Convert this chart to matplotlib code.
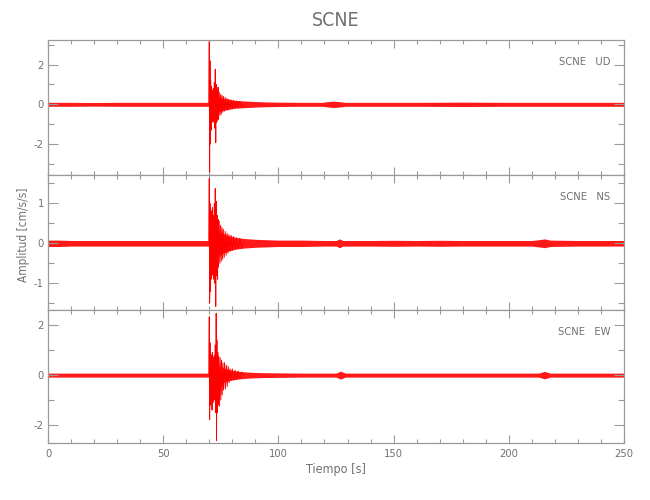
import matplotlib
matplotlib.use("Agg")
import matplotlib.pyplot as plt
from matplotlib.ticker import MultipleLocator

plt.rcParams['font.family'] = ['DejaVu Sans']
plt.rcParams['font.stretch'] = 'condensed'
plt.rcParams['axes.unicode_minus'] = False

title = "SCNE"
station = "SCNE"
components = ["UD", "NS", "EW"]
xlabel = "Tiempo [s]"
ylabel = "Amplitud [cm/s/s]"
x_range = (0, 250)
y_ranges = [(-3.56, 3.24), (-1.67, 1.71), (-2.72, 2.61)]
y_major = [2, 1, 2]
y_minor = [1, 0.5, 1]

# ---- noise / coda envelope (time [s], half-width) ----
ud_env_t = [0, 10, 20, 30, 40, 50, 60, 69.8, 70, 72, 75, 78, 81, 85, 90, 95,
            100, 110, 119, 121, 124, 127, 129, 140, 160, 180, 200, 220, 240, 250]
ud_env_a = [0.1, 0.1, 0.09, 0.1, 0.1, 0.1, 0.1, 0.1, 0.5, 0.5, 0.32, 0.26,
            0.2, 0.17, 0.14, 0.12, 0.11, 0.1, 0.1, 0.13, 0.16, 0.13, 0.1, 0.1,
            0.1, 0.11, 0.1, 0.1, 0.1, 0.1]

ns_env_t = [0, 5, 10, 20, 30, 40, 50, 60, 69.8, 70, 72, 75, 78, 81, 85, 90,
            95, 100, 110, 120, 125, 126.5, 128, 140, 150, 160, 170, 180, 190,
            200, 210, 213, 215.5, 218, 230, 240, 250]
ns_env_a = [0.08, 0.08, 0.07, 0.07, 0.07, 0.07, 0.07, 0.07, 0.07, 0.32, 0.32,
            0.27, 0.2, 0.15, 0.12, 0.1, 0.09, 0.08, 0.08, 0.07, 0.07, 0.11,
            0.07, 0.07, 0.075, 0.07, 0.075, 0.07, 0.07, 0.07, 0.07, 0.09, 0.11,
            0.08, 0.07, 0.07, 0.07]

ew_env_t = [0, 10, 20, 30, 40, 50, 60, 69.8, 70, 72, 75, 78, 80, 83, 87, 92,
            100, 110, 120, 125, 127, 129, 140, 160, 180, 200, 213, 215.5, 218,
            230, 250]
ew_env_a = [0.08, 0.08, 0.08, 0.08, 0.08, 0.08, 0.08, 0.08, 0.42, 0.42, 0.32,
            0.24, 0.19, 0.15, 0.12, 0.1, 0.09, 0.08, 0.08, 0.08, 0.16, 0.08,
            0.08, 0.08, 0.08, 0.08, 0.08, 0.15, 0.08, 0.08, 0.08]

# ---- strong-motion peaks (time [s], amplitude) ----
ud_pk_t = [69.8, 70.0, 70.15, 70.3, 70.45, 70.6, 70.8, 71.0, 71.2, 71.4, 71.6,
           71.8, 72.0, 72.2, 72.4, 72.6, 72.8, 73.0, 73.2, 73.4, 73.6, 73.8,
           74.0, 74.3, 74.6, 74.9, 75.2, 75.5, 75.8, 76.1, 76.5, 76.9, 77.3,
           77.7, 78.1, 78.5, 79.0, 79.5, 80.0, 80.6, 81.2, 81.8, 82.5, 83.2,
           84.0, 85.0]
ud_pk_v = [0.05, 3.15, -3.4, 2.2, -2.0, 1.2, -1.3, 0.9, -0.8, 0.7, -0.9, 0.8,
           -0.7, 1.1, -1.2, 1.76, -1.93, 1.0, -0.9, 0.7, -0.8, 0.86, -0.76,
           0.6, -0.55, 0.5, -0.5, 0.45, -0.4, 0.4, -0.35, 0.35, -0.3, 0.3,
           -0.28, 0.25, -0.22, 0.22, -0.2, 0.2, -0.18, 0.17, -0.15, 0.15,
           -0.12, 0.0]

ns_pk_t = [69.8, 70.0, 70.15, 70.3, 70.45, 70.6, 70.8, 71.0, 71.2, 71.4, 71.6,
           71.8, 72.0, 72.2, 72.4, 72.6, 72.8, 73.0, 73.2, 73.4, 73.6, 73.8,
           74.0, 74.3, 74.6, 74.9, 75.2, 75.5, 75.8, 76.1, 76.5, 76.9, 77.3,
           77.7, 78.1, 78.5, 79.0, 79.5, 80.0, 80.6, 81.2, 81.8, 82.5, 83.2,
           84.0, 85.0]
ns_pk_v = [0.05, 1.62, -1.5, 1.0, -1.2, 0.85, -0.9, 0.8, -0.7, 0.9, -0.8, 0.7,
           -0.9, 1.0, -1.0, 1.37, -1.58, 1.05, -0.8, 0.7, -0.9, 0.6, -0.6,
           0.55, -0.5, 0.45, -0.45, 0.4, -0.4, 0.35, -0.35, 0.3, -0.3, 0.25,
           -0.25, 0.22, -0.2, 0.2, -0.18, 0.17, -0.15, 0.14, -0.13, 0.12,
           -0.1, 0.0]

ew_pk_t = [69.8, 70.0, 70.15, 70.3, 70.45, 70.6, 70.8, 71.0, 71.2, 71.4, 71.6,
           71.8, 72.0, 72.2, 72.4, 72.6, 72.8, 73.0, 73.15, 73.3, 73.5, 73.7,
           73.9, 74.1, 74.4, 74.7, 75.0, 75.3, 75.6, 75.9, 76.2, 76.6, 77.0,
           77.4, 77.8, 78.2, 78.6, 79.0, 79.5, 80.0, 80.6, 81.2, 81.8, 82.5,
           83.2, 84.0, 85.0]
ew_pk_v = [0.05, 2.34, -1.79, 1.3, -1.2, 0.9, -1.0, 0.8, -1.4, 0.9, -1.1, 0.7,
           -0.9, 0.8, -1.0, 1.2, -1.5, 2.48, -2.63, 1.4, -1.5, 0.9, -1.2, 0.75,
           -1.25, 0.7, -1.0, 0.6, -0.8, 0.5, -0.6, 0.5, -0.55, 0.4, -0.45,
           0.35, -0.3, 0.25, -0.22, 0.25, -0.2, 0.2, -0.18, 0.16, -0.15, 0.12,
           0.0]

envs = [(ud_env_t, ud_env_a), (ns_env_t, ns_env_a), (ew_env_t, ew_env_a)]
peaks = [(ud_pk_t, ud_pk_v), (ns_pk_t, ns_pk_v), (ew_pk_t, ew_pk_v)]

AX_C = '#9a9a9a'
TX_C = '#707070'
RED = '#ff0000'

fig = plt.figure(figsize=(6.5, 5.0), dpi=100)
left, width = 48 / 650, 576 / 650
tops = [40, 175, 310]
bots = [175, 310, 443]

axes = []
for i in range(3):
    b = 1 - bots[i] / 500
    h = (bots[i] - tops[i]) / 500
    ax = fig.add_axes([left, b, width, h])
    axes.append(ax)
    et, ea = envs[i]
    ax.fill_between(et, [-a for a in ea], ea, color=RED, linewidth=0,
                    alpha=0.9)
    pt, pv = peaks[i]
    ax.plot(pt, pv, color=RED, linewidth=0.7)
    ax.set_xlim(*x_range)
    ax.set_ylim(*y_ranges[i])
    ax.xaxis.set_major_locator(MultipleLocator(50))
    ax.xaxis.set_minor_locator(MultipleLocator(10))
    ax.yaxis.set_major_locator(MultipleLocator(y_major[i]))
    ax.yaxis.set_minor_locator(MultipleLocator(y_minor[i]))
    for s in ax.spines.values():
        s.set_color(AX_C)
        s.set_linewidth(0.9)
    ax.tick_params(axis='both', which='both', direction='in', top=True,
                   right=True, color=AX_C, labelcolor=TX_C, labelsize=8,
                   width=0.8)
    ax.tick_params(axis='x', which='major', length=5.5, pad=4)
    ax.tick_params(axis='x', which='minor', length=3)
    ax.tick_params(axis='y', which='major', length=7.5, pad=3)
    ax.tick_params(axis='y', which='minor', length=4.5)
    if i < 2:
        ax.tick_params(axis='x', labelbottom=False)
    ax.text(0.976, 0.837, f"{station}   {components[i]}", transform=ax.transAxes,
            ha='right', va='center', fontsize=8, color=TX_C)

axes[2].set_xlabel(xlabel, fontsize=9, color=TX_C, labelpad=3)
fig.text(24 / 650, 1 - 235 / 500, ylabel, rotation=90, ha='center',
         va='center', fontsize=8.5, color=TX_C)
fig.text(left + width / 2, 1 - 20 / 500, title, ha='center', va='center',
         fontsize=14, color=TX_C)

fig.savefig("out.png", dpi=100)
